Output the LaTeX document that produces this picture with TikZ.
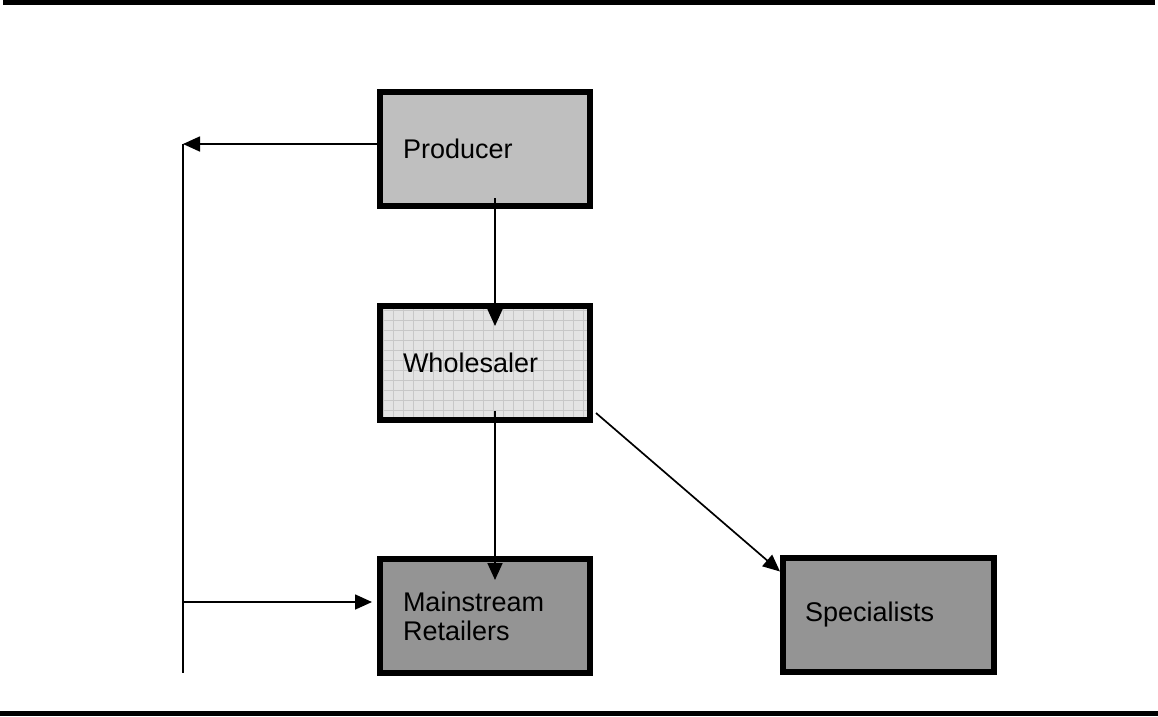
\documentclass[tikz,border=0pt]{standalone}
\usepackage{fontspec}
\setmainfont{Liberation Sans}
\usetikzlibrary{arrows.meta}
\begin{document}
\begin{tikzpicture}[x=1pt,y=-1pt,
  box/.style={draw=black,line width=6pt,minimum width=210pt,minimum height=114pt,
    inner xsep=23pt,text width=164pt,align=left,font=\fontsize{27}{29}\selectfont},
  conn/.style={line width=1.7pt,draw=black},
  arr/.style={conn,-{Triangle[length=17pt,width=15pt]}},
  rule/.style={line width=5pt,draw=black}]
\useasboundingbox (0,0) rectangle (1158,716);
\draw[rule] (3,2.5) -- (1155,2.5);
\draw[rule] (0,713.5) -- (1158,713.5);
\node[box,fill=black!25] (prod) at (485,149) {\raisebox{-3pt}{Producer}};
\node[box,fill=black!11,path picture={\draw[black!22,line width=0.8pt,step=10pt]
  (path picture bounding box.south west) grid (path picture bounding box.north east);}]
  (whole) at (485,363) {\raisebox{-2pt}{Wholesaler}};
\node[box,fill=black!42] (main) at (485,616) {\raisebox{-3pt}{Mainstream}\\\raisebox{-3pt}{Retailers}};
\node[box,fill=black!42,minimum width=211pt,inner xsep=22pt,text width=167pt] (spec) at (888.5,614.5) {\raisebox{-2pt}{Specialists}};
\coordinate (c1) at (183,144);
\coordinate (c2) at (183,673);
\coordinate (c3) at (183,602);
\draw[arr] ([xshift=10pt,yshift=11pt]prod.south) -- ([xshift=10pt,yshift=-23pt]whole.north);
\draw[arr] ([xshift=10pt,yshift=12pt]whole.south) -- ([xshift=10pt,yshift=-24pt]main.north);
\draw[arr] ([xshift=3pt,yshift=10pt]whole.south east) -- ([yshift=-17pt]spec.north west);
\draw[arr] ([yshift=5pt]prod.west) -- (c1);
\draw[conn] (c1) -- (c2);
\draw[arr] (c3) -- ([xshift=-5pt,yshift=14pt]main.west);
\end{tikzpicture}
\end{document}
